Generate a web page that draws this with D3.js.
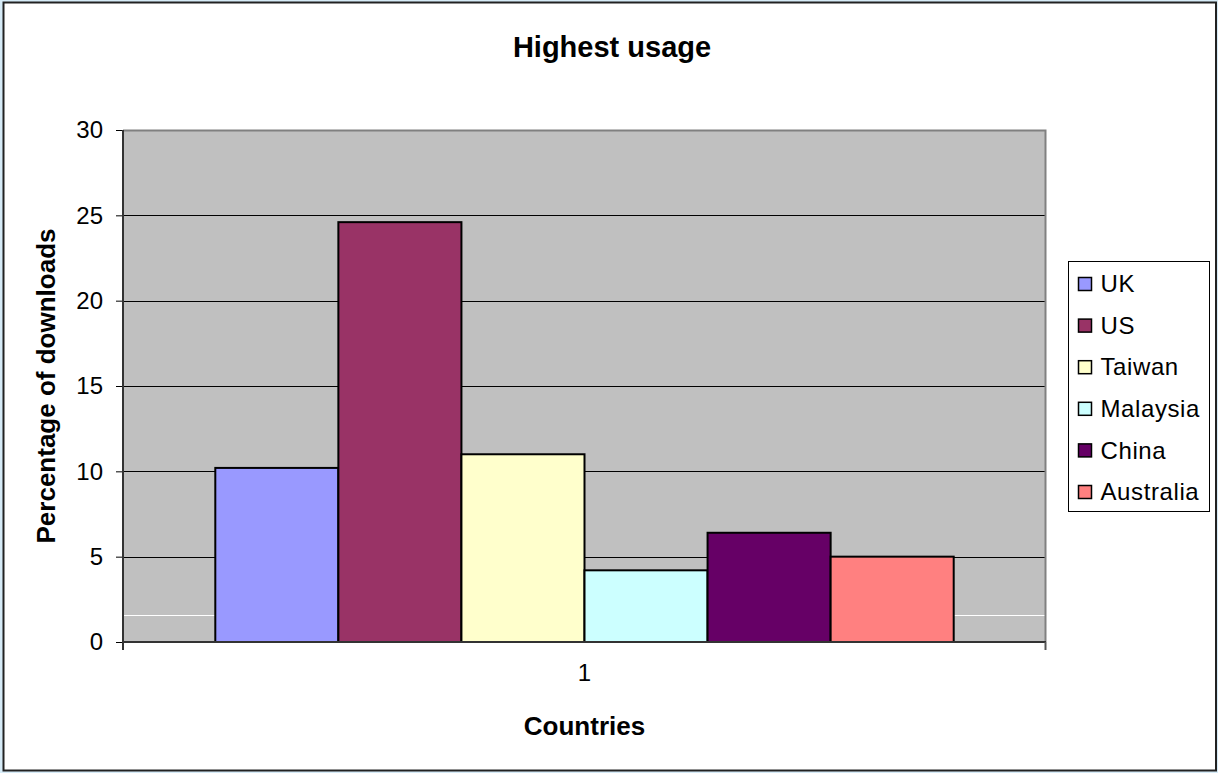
<!DOCTYPE html>
<html>
  <head>
    <title>Highest usage</title>
    <script src="https://d3js.org/d3.v7.min.js"></script>
    <style>
      body {
        margin: 0;
        background: #d6ebf7;
      }
      svg {
        display: block;
        font-family: "Liberation Sans", Arial, sans-serif;
      }
      .axis .domain {
        display: none;
      }
      .axis .tick text {
        font-size: 24px;
        fill: #000;
      }
      .axis .tick line {
        stroke: #000;
      }
      .axis__label {
        font-size: 26px;
        font-weight: bold;
        text-anchor: middle;
        fill: #000;
      }
      .legend text {
        font-size: 24px;
        letter-spacing: 0.6px;
        fill: #000;
      }
    </style>
  </head>
  <body>
    <svg width="1218" height="773"></svg>
    <script>
      const categories = ["1"];
      const countries = ["UK", "US", "Taiwan", "Malaysia", "China", "Australia"];
      const values = [10.2, 24.6, 11.0, 4.2, 6.4, 5.0];
      const colors = ["#9999ff", "#993366", "#ffffcc", "#ccffff", "#660066", "#ff8080"];
      const yTicks = [0, 5, 10, 15, 20, 25, 30];
      const whiteLineValue = 1.6;
      const title = "Highest usage";
      const xLabel = "Countries";
      const yLabel = "Percentage of downloads";

      const margin = {top: 130, right: 172, bottom: 131, left: 123};

      const svg = d3.select("svg");
      const width = +svg.attr("width");
      const height = +svg.attr("height");
      const innerWidth = width - margin.left - margin.right;
      const innerHeight = height - margin.top - margin.bottom;

      // chart frame
      svg.append("rect")
          .attr("x", 3.5)
          .attr("y", 2.5)
          .attr("width", 1212.5)
          .attr("height", 768)
          .attr("fill", "#fff")
          .attr("stroke", "#222")
          .attr("stroke-width", 2);

      svg.append("text")
          .attr("x", 612)
          .attr("y", 57)
          .attr("text-anchor", "middle")
          .attr("font-size", 29)
          .attr("font-weight", "bold")
          .text(title);

      const xScale = d3.scaleBand()
          .domain(categories)
          .range([0, innerWidth])
          .paddingOuter(0.125)
          .paddingInner(0);
      const xSub = d3.scaleBand()
          .domain(countries)
          .range([0, xScale.bandwidth()]);
      const yScale = d3.scaleLinear()
          .domain([0, 30])
          .range([innerHeight, 0]);

      const g = svg.append("g")
          .attr("transform", `translate(${margin.left}, ${margin.top})`);

      // plot area
      g.append("rect")
          .attr("width", innerWidth)
          .attr("height", innerHeight)
          .attr("fill", "#c0c0c0");

      g.append("g")
          .selectAll("line")
          .data(yTicks.filter(d => d > 0 && d < 30))
          .enter().append("line")
            .attr("x1", 0)
            .attr("x2", innerWidth)
            .attr("y1", d => Math.round(yScale(d)) + 0.5)
            .attr("y2", d => Math.round(yScale(d)) + 0.5)
            .attr("stroke", "#000");

      g.append("line")
          .attr("x1", 0)
          .attr("x2", innerWidth)
          .attr("y1", Math.round(yScale(whiteLineValue)) + 0.5)
          .attr("y2", Math.round(yScale(whiteLineValue)) + 0.5)
          .attr("stroke", "#fff");

      // top and right border
      g.append("path")
          .attr("d", `M0,0.5H${innerWidth - 0.5}V${innerHeight}`)
          .attr("fill", "none")
          .attr("stroke", "#808080")
          .attr("stroke-width", 2);

      const barG = g.append("g")
          .attr("transform", `translate(${xScale(categories[0])}, 0)`);
      barG.selectAll("rect")
          .data(countries)
          .enter().append("rect")
            .attr("x", d => xSub(d))
            .attr("y", (d, i) => yScale(values[i]))
            .attr("width", xSub.bandwidth())
            .attr("height", (d, i) => innerHeight - yScale(values[i]))
            .attr("fill", (d, i) => colors[i])
            .attr("stroke", "#000")
            .attr("stroke-width", 2);

      const yAxis = d3.axisLeft(yScale)
          .tickValues(yTicks)
          .tickSizeInner(7)
          .tickSizeOuter(0)
          .tickPadding(13);
      const yAxisG = g.append("g")
          .attr("class", "axis")
          .call(yAxis);

      const xAxis = d3.axisBottom(xScale)
          .tickSize(0)
          .tickPadding(22);
      const xAxisG = g.append("g")
          .attr("class", "axis")
          .attr("transform", `translate(0, ${innerHeight})`)
          .call(xAxis);

      // axis lines and edge ticks
      g.append("line")
          .attr("x1", 0).attr("x2", 0)
          .attr("y1", 0).attr("y2", innerHeight + 8)
          .attr("stroke", "#333").attr("stroke-width", 2);
      g.append("line")
          .attr("x1", 0).attr("x2", innerWidth)
          .attr("y1", innerHeight).attr("y2", innerHeight)
          .attr("stroke", "#333").attr("stroke-width", 2);
      g.append("line")
          .attr("x1", innerWidth - 0.5).attr("x2", innerWidth - 0.5)
          .attr("y1", innerHeight).attr("y2", innerHeight + 8)
          .attr("stroke", "#555").attr("stroke-width", 2);

      xAxisG.append("text")
          .attr("class", "axis__label")
          .attr("x", xScale(categories[0]) + xScale.bandwidth() / 2)
          .attr("y", 93)
          .text(xLabel);

      yAxisG.append("text")
          .attr("class", "axis__label")
          .attr("transform", "rotate(-90)")
          .attr("x", -innerHeight / 2)
          .attr("y", -68)
          .text(yLabel);

      // legend
      const legend = svg.append("g")
          .attr("class", "legend")
          .attr("transform", "translate(1068.5, 261.5)");
      legend.append("rect")
          .attr("width", 141)
          .attr("height", 250)
          .attr("fill", "#fff")
          .attr("stroke", "#000");
      const rowScale = d3.scalePoint()
          .domain(countries)
          .range([22, 230]);
      const rows = legend.selectAll("g.row")
          .data(countries)
          .enter().append("g")
            .attr("class", "row")
            .attr("transform", d => `translate(0, ${rowScale(d)})`);
      rows.append("rect")
          .attr("x", 10)
          .attr("y", -6)
          .attr("width", 13)
          .attr("height", 13)
          .attr("fill", (d, i) => colors[i])
          .attr("stroke", "#000")
          .attr("stroke-width", 1.5);
      rows.append("text")
          .attr("x", 32)
          .attr("dy", "0.36em")
          .text(d => d);
    </script>
  </body>
</html>
